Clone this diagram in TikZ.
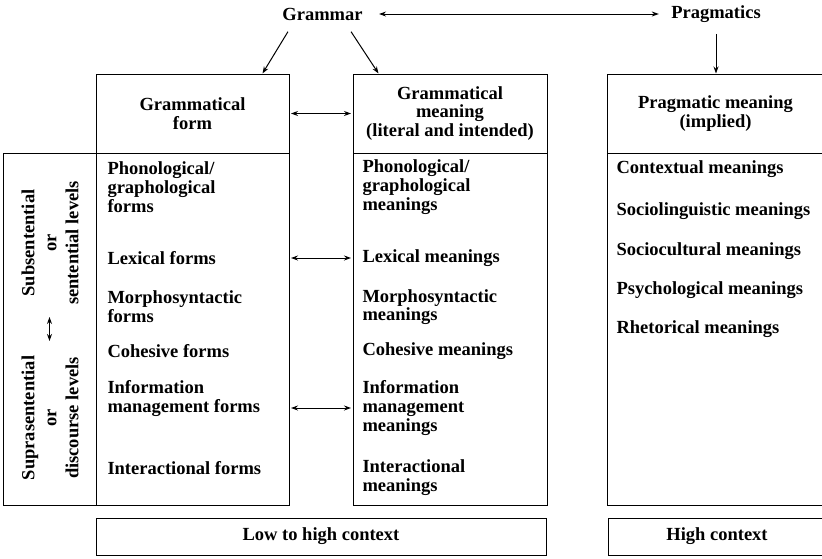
\documentclass[tikz,border=0pt]{standalone}
\usepackage{fontspec}
\setmainfont{Liberation Serif}
\usetikzlibrary{arrows.meta}

\begin{document}
\begin{tikzpicture}[x=1pt,y=-1pt,line width=1pt,
  every node/.style={font=\fontsize{18.5}{18.7}\selectfont\bfseries,inner sep=3pt},
  hdr/.style={draw,minimum height=79pt,align=center,inner sep=0pt},
  body/.style={draw,minimum height=352pt,inner sep=0pt},
  ctx/.style={draw,minimum height=37pt,inner sep=0pt},
  item/.style={anchor=west,align=left,inner sep=0pt},
  lev/.style={rotate=90,align=center,font=\fontsize{18.5}{22}\selectfont\bfseries},
  tip/.style={-{Stealth[length=7pt,width=5pt]}},
  both/.style={{Stealth[length=7pt,width=5pt]}-{Stealth[length=7pt,width=5pt]}}]
\useasboundingbox (0,0) rectangle (822,558);

% top
\node (gram) at (322.5,14) {Grammar};
\node (prag) at (716,14) {Pragmatics};

% header boxes
\node[hdr,minimum width=193pt] (formh) at (192.5,113.5) {Grammatical\\form};
\node[hdr,minimum width=194pt] (meanh) at (450,113.5) {Grammatical\\meaning\\(literal and intended)};
\node[hdr,minimum width=217pt] (pragh) at (715.5,113.5) {Pragmatic meaning\\(implied)};

% body boxes
\node[body,minimum width=93pt] (levb) at (49.5,329) {};
\node[body,minimum width=193pt] (formb) at (192.5,329) {};
\node[body,minimum width=194pt] (meanb) at (450,329) {};
\node[body,minimum width=217pt] (pragb) at (715.5,329) {};

% context boxes
\node[ctx,minimum width=450pt] (lowc) at (321,536.5) {Low to high context};
\node[ctx,minimum width=218pt] (highc) at (717,536.5) {High context};

% levels
\node[lev] (sublev) at (50,243) {Subsentential\\or\\sentential levels};
\node[lev] (suplev) at (50,418) {Suprasentential\\or\\discourse levels};

% forms
\node[item] (phonf) at (107,187) {Phonological/\\graphological\\forms};
\node[item] (lexf) at (107,258) {Lexical forms};
\node[item] (morf) at (107,307) {Morphosyntactic\\forms};
\node[item] (cohf) at (107,351) {Cohesive forms};
\node[item] (inff) at (107,398.5) {Information\\management forms};
\node[item] (intf) at (107,468) {Interactional forms};

% meanings
\node[item] (phonm) at (362,187) {Phonological/\\graphological\\meanings};
\node[item] (lexm) at (362,258) {Lexical meanings};
\node[item] (morm) at (362,307) {Morphosyntactic\\meanings};
\node[item] (cohm) at (362,351) {Cohesive meanings};
\node[item] (infm) at (362,408) {Information\\management\\meanings};
\node[item] (intm) at (362,477.5) {Interactional\\meanings};

% pragmatic meanings
\node[item] (ctxm) at (616,169) {Contextual meanings};
\node[item] (socm) at (616,211) {Sociolinguistic meanings};
\node[item] (culm) at (616,251) {Sociocultural meanings};
\node[item] (psym) at (616,290) {Psychological meanings};
\node[item] (rhem) at (616,329) {Rhetorical meanings};

% arrows
\draw[both,shorten <=13pt,shorten >=9pt] (gram) -- (prag);
\draw[tip] ([xshift=9pt,yshift=-8pt]gram.south west) -- ([xshift=-27pt]formh.north east);
\draw[tip] ([xshift=-15pt,yshift=-8pt]gram.south east) -- ([xshift=26pt]meanh.north west);
\draw[tip] ([yshift=-8pt]prag.south) -- (prag.south |- pragh.north);
\draw[both,shorten <=1.5pt,shorten >=1.5pt] (formh) -- (meanh);
\draw[both,shorten <=1.5pt,shorten >=1.5pt] (formb.east |- lexf) -- (meanb.west |- lexf);
\draw[both,shorten <=1.5pt,shorten >=1.5pt] (formb.east |- infm) -- (meanb.west |- infm);
\draw[both] ([yshift=12pt]levb.center) -- ([yshift=-12pt]levb.center);
\end{tikzpicture}
\end{document}
